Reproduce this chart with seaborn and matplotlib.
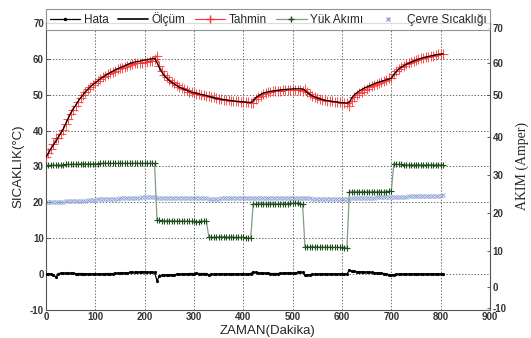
import numpy as np
import pandas as pd
import matplotlib
matplotlib.use("Agg")
import matplotlib.pyplot as plt
from matplotlib.lines import Line2D
import seaborn as sns

# ---- data (sampled every 5 minutes, t = 0 ... 805) ----
step_min = 5
olcum = [
    32.6, 33.8, 35.0, 36.0, 37.0, 38.2, 39.4, 40.5, 42.0, 43.5,
    44.9, 46.1, 47.1, 48.2, 49.2, 50.0, 50.9, 51.6, 52.3, 52.9,
    53.4, 53.9, 54.5, 54.9, 55.4, 55.8, 56.2, 56.6, 56.9, 57.3,
    57.6, 57.9, 58.2, 58.5, 58.8, 59.0, 59.2, 59.3, 59.4, 59.6,
    59.7, 59.8, 60.0, 60.1, 60.3, 59.0, 57.5, 56.3, 55.3, 54.6,
    54.0, 53.5, 53.0, 52.6, 52.2, 51.9, 51.6, 51.3, 51.0, 50.8,
    50.6, 50.5, 50.3, 50.1, 50.0, 49.8, 49.6, 49.4, 49.2, 49.0,
    48.9, 48.8, 48.7, 48.6, 48.5, 48.4, 48.3, 48.2, 48.2, 48.1,
    48.1, 48.0, 47.9, 47.9, 48.4, 49.2, 49.7, 50.1, 50.5, 50.7,
    50.9, 51.0, 51.1, 51.2, 51.3, 51.4, 51.5, 51.5, 51.6, 51.6,
    51.7, 51.7, 51.7, 51.7, 51.7, 51.2, 50.6, 50.1, 49.7, 49.4,
    49.1, 48.9, 48.7, 48.5, 48.4, 48.3, 48.2, 48.1, 48.0, 47.9,
    47.8, 47.8, 47.7, 48.0, 49.2, 50.0, 50.6, 51.1, 51.5, 51.9,
    52.2, 52.5, 52.8, 53.1, 53.4, 53.6, 53.8, 54.0, 54.2, 54.4,
    54.6, 55.6, 56.5, 57.2, 57.7, 58.1, 58.5, 58.8, 59.1, 59.4,
    59.7, 59.9, 60.2, 60.4, 60.6, 60.7, 60.9, 61.0, 61.2, 61.3,
    61.4, 61.5,
]
tahmin = [
    32.6, 33.7, 35.0, 36.2, 37.9, 38.1, 39.2, 40.3, 41.8, 43.3,
    44.7, 45.9, 47.0, 48.1, 49.1, 49.9, 50.9, 51.6, 52.3, 52.9,
    53.4, 53.9, 54.5, 54.9, 55.3, 55.7, 56.1, 56.5, 56.7, 57.1,
    57.4, 57.6, 57.9, 58.2, 58.4, 58.6, 58.8, 58.8, 58.9, 59.0,
    59.1, 59.3, 59.5, 59.6, 59.9, 60.9, 58.1, 56.7, 55.6, 54.9,
    54.3, 53.7, 53.2, 52.7, 52.3, 51.9, 51.6, 51.3, 50.9, 50.7,
    50.5, 50.3, 50.2, 50.0, 49.9, 49.7, 49.8, 49.5, 49.3, 49.1,
    48.9, 48.8, 48.7, 48.6, 48.5, 48.4, 48.3, 48.2, 48.2, 48.1,
    48.1, 48.0, 47.9, 47.8, 47.8, 48.8, 49.4, 49.8, 50.2, 50.5,
    50.7, 50.9, 51.0, 51.1, 51.2, 51.2, 51.3, 51.3, 51.3, 51.3,
    51.4, 51.4, 51.3, 51.3, 51.2, 51.6, 50.9, 50.3, 49.8, 49.5,
    49.2, 48.9, 48.7, 48.5, 48.4, 48.3, 48.2, 48.1, 48.0, 47.9,
    47.8, 47.8, 47.7, 47.0, 48.4, 49.3, 50.0, 50.5, 50.9, 51.4,
    51.7, 52.1, 52.4, 52.8, 53.1, 53.4, 53.6, 53.9, 54.3, 54.6,
    54.8, 55.8, 56.6, 57.3, 57.8, 58.1, 58.5, 58.8, 59.1, 59.4,
    59.7, 59.9, 60.2, 60.4, 60.6, 60.7, 60.9, 61.0, 61.2, 61.3,
    61.4, 61.4,
]
hata = [
    0.0, 0.1, 0.0, -0.2, -0.9, 0.1, 0.2, 0.2, 0.2, 0.2,
    0.2, 0.2, 0.1, 0.1, 0.1, 0.1, 0.0, 0.0, 0.0, 0.0,
    0.0, 0.0, 0.0, 0.0, 0.1, 0.1, 0.1, 0.1, 0.2, 0.2,
    0.2, 0.3, 0.3, 0.3, 0.4, 0.4, 0.4, 0.5, 0.5, 0.6,
    0.6, 0.5, 0.5, 0.5, 0.4, -1.9, -0.6, -0.4, -0.3, -0.3,
    -0.3, -0.2, -0.2, -0.1, -0.1, 0.0, 0.0, 0.0, 0.1, 0.1,
    0.1, 0.2, 0.1, 0.1, 0.1, 0.1, -0.2, -0.1, -0.1, -0.1,
    0.0, 0.0, 0.0, 0.0, 0.0, 0.0, 0.0, 0.0, 0.0, 0.0,
    0.0, 0.0, 0.0, 0.1, 0.6, 0.4, 0.3, 0.3, 0.3, 0.2,
    0.2, 0.1, 0.1, 0.1, 0.1, 0.2, 0.2, 0.2, 0.3, 0.3,
    0.3, 0.3, 0.4, 0.4, 0.5, -0.4, -0.3, -0.2, -0.1, -0.1,
    -0.1, 0.0, 0.0, 0.0, 0.0, 0.0, 0.0, 0.0, 0.0, 0.0,
    0.0, 0.0, 0.0, 1.0, 0.8, 0.7, 0.6, 0.6, 0.6, 0.5,
    0.5, 0.4, 0.4, 0.3, 0.3, 0.2, 0.2, 0.1, -0.1, -0.2,
    -0.2, -0.2, -0.1, -0.1, -0.1, 0.0, 0.0, 0.0, 0.0, 0.0,
    0.0, 0.0, 0.0, 0.0, 0.0, 0.0, 0.0, 0.0, 0.0, 0.0,
    0.0, 0.1,
]
yuk_akimi = [
    30.3, 30.3, 30.4, 30.4, 30.4, 30.5, 30.5, 30.5, 30.6, 30.6,
    30.6, 30.7, 30.7, 30.7, 30.8, 30.8, 30.8, 30.8, 30.8, 30.8,
    30.8, 30.8, 30.9, 30.9, 30.9, 30.9, 30.9, 30.9, 30.9, 30.9,
    30.9, 30.9, 30.9, 30.9, 30.9, 30.9, 30.9, 30.9, 30.9, 30.9,
    30.9, 30.9, 30.9, 30.9, 30.9, 15.0, 15.0, 14.9, 14.9, 14.9,
    14.9, 14.9, 14.8, 14.8, 14.8, 14.8, 14.8, 14.7, 14.7, 14.7,
    14.7, 14.6, 14.6, 14.7, 14.8, 14.8, 10.3, 10.3, 10.3, 10.3,
    10.3, 10.4, 10.4, 10.4, 10.3, 10.3, 10.3, 10.2, 10.2, 10.2,
    10.2, 10.1, 10.1, 10.1, 19.5, 19.6, 19.6, 19.6, 19.6, 19.6,
    19.6, 19.6, 19.6, 19.6, 19.6, 19.6, 19.6, 19.6, 19.6, 19.7,
    19.7, 19.7, 19.7, 19.5, 19.5, 7.6, 7.6, 7.6, 7.6, 7.6,
    7.6, 7.5, 7.5, 7.5, 7.5, 7.5, 7.4, 7.4, 7.4, 7.4,
    7.4, 7.3, 7.3, 23.0, 23.0, 23.0, 23.0, 23.0, 23.0, 23.0,
    23.0, 23.0, 23.0, 23.0, 23.0, 23.0, 23.0, 23.0, 23.0, 23.1,
    23.1, 30.8, 30.7, 30.6, 30.6, 30.5, 30.5, 30.5, 30.5, 30.5,
    30.5, 30.5, 30.5, 30.5, 30.5, 30.5, 30.5, 30.5, 30.5, 30.5,
    30.5, 30.5,
]
cevre = [
    20.0, 20.0, 20.1, 20.1, 20.1, 20.2, 20.2, 20.2, 20.3, 20.3,
    20.3, 20.4, 20.4, 20.4, 20.5, 20.5, 20.5, 20.6, 20.6, 20.7,
    20.7, 20.8, 20.8, 20.8, 20.9, 20.9, 20.9, 21.0, 21.0, 21.0,
    21.1, 21.1, 21.1, 21.2, 21.2, 21.2, 21.3, 21.3, 21.3, 21.4,
    21.4, 21.4, 21.4, 21.4, 21.4, 21.3, 21.3, 21.2, 21.2, 21.2,
    21.1, 21.1, 21.1, 21.1, 21.1, 21.1, 21.1, 21.1, 21.1, 21.1,
    21.1, 21.1, 21.1, 21.1, 21.1, 21.1, 21.0, 21.0, 21.0, 21.0,
    21.0, 21.1, 21.1, 21.1, 21.1, 21.1, 21.1, 21.1, 21.1, 21.1,
    21.1, 21.1, 21.2, 21.2, 21.2, 21.2, 21.2, 21.2, 21.2, 21.2,
    21.3, 21.3, 21.3, 21.3, 21.3, 21.3, 21.3, 21.3, 21.3, 21.3,
    21.3, 21.3, 21.3, 21.2, 21.2, 21.2, 21.1, 21.1, 21.0, 21.0,
    21.0, 21.0, 20.9, 20.9, 20.9, 20.9, 20.9, 20.8, 20.8, 20.8,
    20.8, 20.9, 20.9, 21.0, 21.1, 21.1, 21.2, 21.2, 21.2, 21.2,
    21.3, 21.3, 21.3, 21.3, 21.4, 21.4, 21.4, 21.4, 21.4, 21.5,
    21.5, 21.5, 21.6, 21.6, 21.6, 21.6, 21.6, 21.7, 21.7, 21.7,
    21.7, 21.7, 21.7, 21.7, 21.8, 21.8, 21.8, 21.8, 21.8, 21.8,
    21.8, 21.9,
]
legend_labels = ["Hata", "Ölçüm", "Tahmin", "Yük Akımı", "Çevre Sıcaklığı"]
x_ticks = [0, 100, 200, 300, 400, 500, 600, 700, 800, 900]
y_ticks = [-10, 0, 10, 20, 30, 40, 50, 60, 70]
right_labels = ["70", "60", "50", "40", "30", "20", "10", "0", "-10"]
right_label_pos = [68.7, 58.9, 49.9, 38.2, 27.5, 16.9, 6.5, -3.6, -9.5]

zaman = np.arange(len(olcum)) * step_min
df = pd.DataFrame({"zaman": zaman, "olcum": olcum, "tahmin": tahmin,
                   "hata": hata, "yuk": yuk_akimi, "cevre": cevre})

sns.set_style("white")
plt.rcParams["font.family"] = ["Liberation Sans", "DejaVu Sans"]

fig = plt.figure(figsize=(5.31, 3.38), dpi=100)
ax = fig.add_axes([46 / 531, 28.3 / 338, 444 / 531, 286.4 / 338])

c_red = "#ff3030"
c_green_line = "#7f9f7f"
c_green_mk = "#1e4d1e"
c_blue = "#8fa3d9"

sns.scatterplot(data=df, x="zaman", y="cevre", marker="x", s=9, linewidth=0.6,
                color=c_blue, ax=ax, zorder=2, legend=False)
sns.lineplot(data=df, x="zaman", y="yuk", color=c_green_line, lw=0.9,
             marker="+", markersize=5, markeredgecolor=c_green_mk, markeredgewidth=0.8,
             ax=ax, zorder=3, legend=False)
sns.lineplot(data=df, x="zaman", y="tahmin", color=c_red, lw=0.8, alpha=0.85,
             marker="+", markersize=6.5, markeredgecolor=c_red, markeredgewidth=0.7,
             ax=ax, zorder=4, legend=False)
sns.lineplot(data=df, x="zaman", y="olcum", color="black", lw=0.9,
             ax=ax, zorder=5, legend=False)
sns.lineplot(data=df, x="zaman", y="hata", color="black", lw=0.9,
             marker=".", markersize=3, markeredgecolor="black",
             ax=ax, zorder=5, legend=False)

ax.set_xlim(0, 900)
ax.set_ylim(-10, 70)
ax.set_xticks(x_ticks)
ax.set_yticks(y_ticks)
ax.grid(True, color="#333333", linestyle=(0, (2, 2.5)), linewidth=0.5)
tick_font = dict(family=["Liberation Sans Narrow", "Liberation Sans", "DejaVu Sans"],
                 size=7, weight="bold")
ax.set_xticklabels([str(v) for v in x_ticks], fontdict=tick_font, color="#333333")
ax.set_yticklabels([str(v) for v in y_ticks], fontdict=tick_font, color="#333333")
ax.tick_params(axis="both", direction="in", length=3, width=0.6, pad=1.5,
               color="#444444", top=False, right=False)
for s in ax.spines.values():
    s.set_color("#555555")
    s.set_linewidth(0.8)
ax.set_xlabel("ZAMAN(Dakika)", fontsize=9.5, labelpad=2)
ax.set_ylabel("SICAKLIK(°C)", fontsize=9.5, labelpad=4)

ax2 = ax.twinx()
ax2.set_ylim(-10, 70)
ax2.set_yticks(right_label_pos)
ax2.set_yticklabels(right_labels, fontdict=tick_font, color="#333333")
ax2.tick_params(axis="y", direction="in", length=2.5, width=0.6, pad=2, color="#444444")
for s in ax2.spines.values():
    s.set_visible(False)
ax2.set_ylabel("AKIM (Amper)", family=["Liberation Serif", "DejaVu Serif"],
               fontsize=10, labelpad=6)

handles = [
    Line2D([], [], color="black", lw=0.9, marker=".", markersize=3),
    Line2D([], [], color="black", lw=1.2),
    Line2D([], [], color=c_red, lw=0.8, marker="+", markersize=6),
    Line2D([], [], color=c_green_line, lw=0.9, marker="+", markersize=5,
           markeredgecolor=c_green_mk),
    Line2D([], [], color=c_blue, lw=0, marker="x", markersize=3),
]
leg = ax.legend(handles, legend_labels, ncol=5, loc="lower left",
                bbox_to_anchor=(0, 0.977, 1, 0.073), mode="expand", borderaxespad=0,
                fontsize=8.5, frameon=True, fancybox=False, handlelength=2.6,
                handletextpad=0.3, columnspacing=0.8, borderpad=0.3)
leg.get_frame().set_edgecolor("#777777")
leg.get_frame().set_linewidth(0.8)
leg.set_zorder(10)
ax.set_zorder(ax2.get_zorder() + 1)
ax.patch.set_visible(False)

fig.savefig("out.png", dpi=100)
